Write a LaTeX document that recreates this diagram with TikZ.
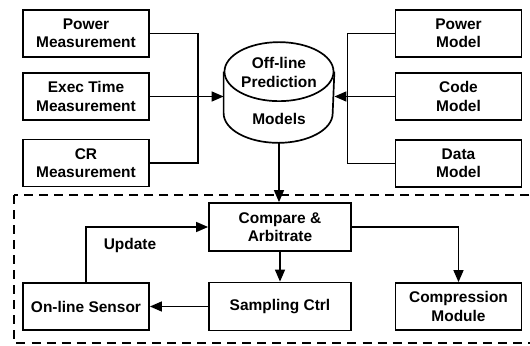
\documentclass[tikz,border=0pt]{standalone}
\usepackage{fontspec}
\setmainfont{Liberation Sans}
\usepackage{tikz}
\usetikzlibrary{arrows.meta}
\usetikzlibrary{positioning}

\begin{document}
\begin{tikzpicture}[x=0.025cm, y=-0.025cm, line width=1.2pt,
        font=\fontsize{11}{13}\selectfont\bfseries,
        box/.style={draw, rectangle, align=center, minimum width=3.15cm, minimum height=1.175cm, inner sep=1pt},
        widebox/.style={box, minimum width=3.55cm, minimum height=1.2cm},
        arr/.style={-{Triangle[length=8.5pt, width=7pt]}}]

        \useasboundingbox (0,0) rectangle (530,346);

        % measurement side
        \node[box] (pwrmeas) at (86,33.5) {Power\\Measurement};
        \node[box] (timemeas) at (86,96.5) {Exec Time\\Measurement};
        \node[box] (crmeas) at (86,163) {CR\\Measurement};

        % model side
        \node[box] (pwrmodel) at (458.5,33.5) {Power\\Model};
        \node[box] (codemodel) at (458.5,96.5) {Code\\Model};
        \node[box] (datamodel) at (458.5,163.5) {Data\\Model};

        % off-line prediction store
        \node[minimum width=2.725cm, minimum height=2.475cm, inner sep=0pt] (store) at (279,92.5) {};
        \draw ([yshift=-0.7375cm]store.north) ellipse [x radius=1.3625cm, y radius=0.7375cm];
        \draw ([yshift=-0.7375cm]store.north west) -- ([yshift=0.7375cm]store.south west)
            arc[start angle=180, end angle=360, x radius=1.3625cm, y radius=0.7375cm]
            -- ([yshift=-0.7375cm]store.north east);
        \node[align=center] (storetop) at (279,72.5) {Off-line\\Prediction};
        \node (storebot) at (279,119) {Models};

        \draw (pwrmeas.east) -- ++(48,0) |- (crmeas.east);
        \draw[arr] (timemeas.east) -- (timemeas.east -| store.west);
        \draw (pwrmodel.west) -- ++(-47,0) |- (datamodel.west);
        \draw[arr] (codemodel.west) -- (codemodel.west -| store.east);

        % on-line part
        \draw[line width=0.8pt, dash pattern=on 6.4pt off 4.3pt] (14,195) rectangle (545,343);

        \node[widebox] (arbiter) at (280,227) {Compare \&\\Arbitrate};
        \node[box] (sensor) at (86,306.5) {On-line Sensor};
        \node[widebox] (sampler) at (280,306.5) {Sampling Ctrl};
        \node[box] (compress) at (458.5,306.5) {Compression\\Module};
        \node (update) at (130,246) {Update};

        \draw[arr] (store.south) -- (store.south |- arbiter.north);
        \draw[arr] (sensor.north) |- (arbiter.west);
        \draw[arr] (arbiter.south) -- (sampler.north);
        \draw[arr] (arbiter.east) -| (compress.north);
        \draw[arr] (sampler.west) -- (sensor.east);

\end{tikzpicture}
\end{document}
